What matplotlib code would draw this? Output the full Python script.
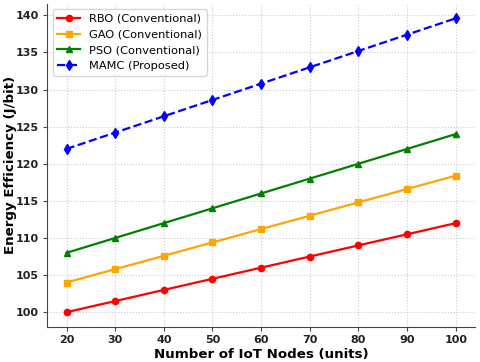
import matplotlib
matplotlib.use("Agg")
import matplotlib.pyplot as plt

nodes = [20, 30, 40, 50, 60, 70, 80, 90, 100]
rbo = [100, 101.5, 103, 104.5, 106, 107.5, 109, 110.5, 112]
gao = [104, 105.8, 107.6, 109.4, 111.2, 113, 114.8, 116.6, 118.4]
pso = [108, 110, 112, 114, 116, 118, 120, 122, 124]
mamc = [122, 124.2, 126.4, 128.6, 130.8, 133, 135.2, 137.4, 139.6]

fig, ax = plt.subplots(figsize=(4.8, 3.62), dpi=100)
ax.plot(nodes, rbo, color='red', marker='o', markersize=4.5, lw=1.6, label='RBO (Conventional)')
ax.plot(nodes, gao, color='orange', marker='s', markersize=4.5, lw=1.6, label='GAO (Conventional)')
ax.plot(nodes, pso, color='green', marker='^', markersize=4.5, lw=1.6, label='PSO (Conventional)')
ax.plot(nodes, mamc, color='blue', marker='d', markersize=5, lw=1.6, ls='--', label='MAMC (Proposed)')

ax.set_xlabel('Number of IoT Nodes (units)', fontsize=9.6, fontweight='bold', labelpad=2)
ax.set_ylabel('Energy Efficiency (J/bit)', fontsize=9.6, fontweight='bold')
ax.yaxis.set_label_coords(-0.07, 0.5)
ax.set_xticks(nodes)
for lbl in ax.get_xticklabels() + ax.get_yticklabels():
    lbl.set_fontweight('bold')
ax.tick_params(labelsize=8, direction='out', length=3, pad=3, colors='#444444', labelcolor='#222222')
ax.grid(True, ls=':', color='#cccccc', lw=0.8)
ax.spines['top'].set_visible(False)
ax.spines['right'].set_visible(False)
for s in ['left', 'bottom']:
    ax.spines[s].set_color('#444444')
ax.legend(loc='upper left', fontsize=8.2)
fig.subplots_adjust(left=0.098, right=0.99, bottom=0.097, top=0.99)
fig.savefig('out.png', dpi=100)
